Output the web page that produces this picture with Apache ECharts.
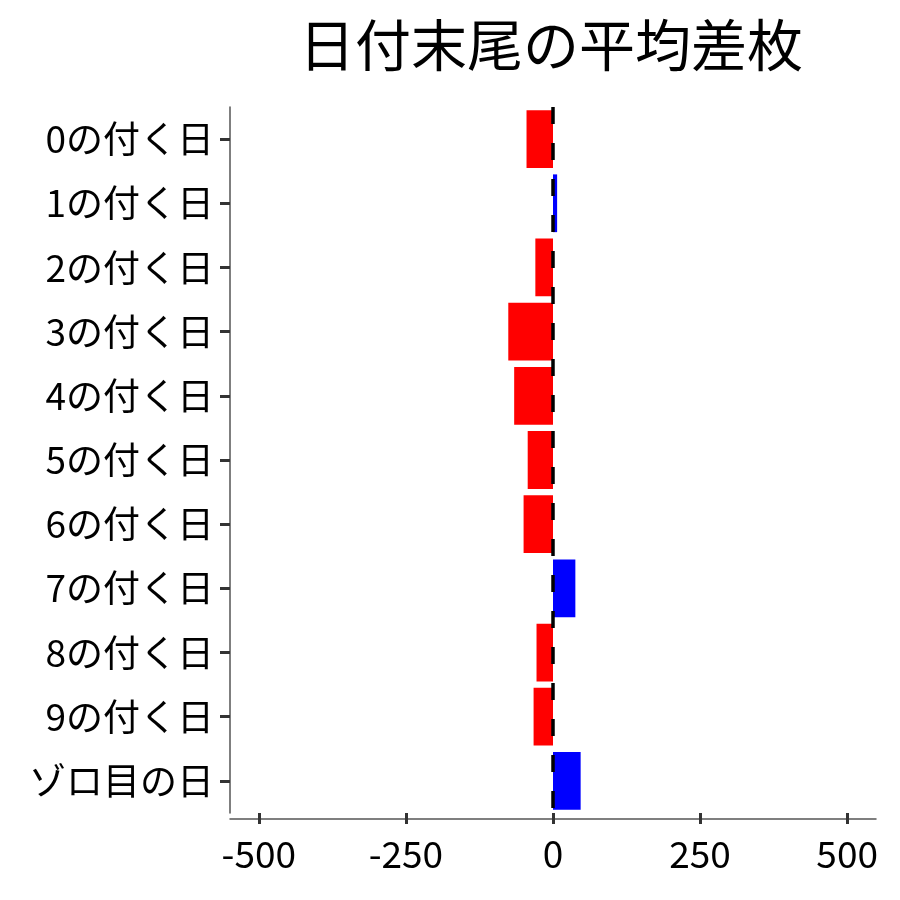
<!DOCTYPE html>
<html>
<head>
<meta charset="utf-8">
<script src="https://cdn.jsdelivr.net/npm/echarts@6/dist/echarts.min.js"></script>
<style>
  html, body { margin: 0; padding: 0; background: #fff; }
  #main { width: 900px; height: 900px; }
</style>
</head>
<body>
<div id="main"></div>
<script>
// 日付末尾ごとの平均差枚
var categories = ['0の付く日', '1の付く日', '2の付く日', '3の付く日', '4の付く日',
                  '5の付く日', '6の付く日', '7の付く日', '8の付く日', '9の付く日', 'ゾロ目の日'];
var values = [-45, 7, -30, -76, -66, -43, -50, 38, -28, -33, 47];
var xMin = -549, xMax = 549;          // 表示範囲（左右に余白）
var tickMin = -500, tickMax = 500, tickStep = 250;

var font = '"Noto Sans CJK JP", "Noto Sans", sans-serif';
var chart = echarts.init(document.getElementById('main'));

// 目盛り用の軸は別グリッドで -500〜500 の範囲に合わせる
var plotLeft = 230, plotRight = 24, plotW = 900 - plotLeft - plotRight;
var pxPerUnit = plotW / (xMax - xMin);
var tickLeft = plotLeft + (tickMin - xMin) * pxPerUnit;
var tickRight = plotRight + (xMax - tickMax) * pxPerUnit;

var option = {
    animation: false,
    backgroundColor: '#fff',
    title: {
        text: '日付末尾の平均差枚',
        left: 294,
        top: 12,
        textStyle: { fontFamily: font, fontSize: 56, fontWeight: 'normal', color: '#000' }
    },
    grid: [
        { left: plotLeft, right: plotRight, top: 107, bottom: 87 },
        { left: tickLeft, right: tickRight, top: 107, bottom: 87 }
    ],
    xAxis: [{
        type: 'value',
        gridIndex: 0,
        min: xMin,
        max: xMax,
        offset: 6,
        splitLine: { show: false },
        axisLine: { show: true, onZero: false, lineStyle: { color: '#555', width: 1.5 } },
        axisTick: { show: false },
        axisLabel: { show: false }
    }, {
        type: 'value',
        gridIndex: 1,
        min: tickMin,
        max: tickMax,
        interval: tickStep,
        offset: 6,
        splitLine: { show: false },
        axisLine: { show: false },
        axisTick: { show: true, length: 11, lineStyle: { color: '#333', width: 3 } },
        axisLabel: { margin: 16, color: '#000', fontFamily: font, fontSize: 37 }
    }],
    yAxis: [{
        type: 'category',
        gridIndex: 0,
        data: categories,
        inverse: true,
        axisLine: { show: true, onZero: false, lineStyle: { color: '#555', width: 1.5 } },
        axisTick: { show: true, alignWithLabel: true, length: 10, lineStyle: { color: '#333', width: 3 } },
        axisLabel: { margin: 16, color: '#000', fontFamily: font, fontSize: 37 }
    }, {
        type: 'value',
        gridIndex: 1,
        show: false
    }],
    series: [{
        type: 'bar',
        xAxisIndex: 0,
        yAxisIndex: 0,
        barCategoryGap: '10%',
        data: values.map(function (v) {
            return { value: v, itemStyle: { color: v < 0 ? '#ff0000' : '#0000ff' } };
        }),
        markLine: {
            silent: true,
            symbol: 'none',
            z: 10,
            label: { show: false },
            lineStyle: { color: '#000', width: 3.5, type: [17, 19] },
            data: [{ xAxis: 0 }]
        }
    }]
};

chart.setOption(option);
</script>
</body>
</html>
